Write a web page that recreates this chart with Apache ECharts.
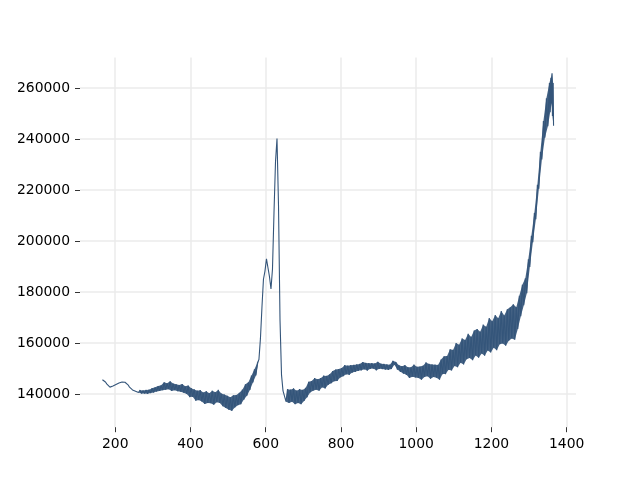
<!DOCTYPE html>
<html>
<head>
<meta charset="utf-8">
<script src="https://cdn.jsdelivr.net/npm/echarts@6/dist/echarts.min.js"></script>
<style>
  html, body { margin: 0; padding: 0; background: #fff; }
  #chart { width: 640px; height: 480px; }
</style>
</head>
<body>
<div id="chart"></div>
<script>
const xTicks = [200, 400, 600, 800, 1000, 1200, 1400];
const yTicks = [140000, 160000, 180000, 200000, 220000, 240000, 260000];

const wavenumber = [
  166,170,174,178,182,186,190,194,198,202,
  206,210,214,218,222,226,230,234,238,242,
  246,250,254,258,262,266,270,274,278,282,
  286,290,294,298,302,306,310,314,318,322,
  326,330,334,338,342,346,350,354,358,362,
  366,370,374,378,382,386,390,394,398,402,
  406,410,414,418,422,426,430,434,438,442,
  446,450,454,458,462,466,470,474,478,482,
  486,490,494,498,502,506,510,514,518,522,
  526,530,534,538,542,546,550,554,558,562,
  566,570,574,578,582,586,590,594,598,602,
  606,610,614,618,622,626,630,634,638,642,
  646,650,654,658,662,666,670,674,678,682,
  686,690,694,698,702,706,710,714,718,722,
  726,730,734,738,742,746,750,754,758,762,
  766,770,774,778,782,786,790,794,798,802,
  806,810,814,818,822,826,830,834,838,842,
  846,850,854,858,862,866,870,874,878,882,
  886,890,894,898,902,906,910,914,918,922,
  926,930,934,938,942,946,950,954,958,962,
  966,970,974,978,982,986,990,994,998,1002,
  1006,1010,1014,1018,1022,1026,1030,1034,1038,1042,
  1046,1050,1054,1058,1062,1066,1070,1074,1078,1082,
  1086,1090,1094,1098,1102,1106,1110,1114,1118,1122,
  1126,1130,1134,1138,1142,1146,1150,1154,1158,1162,
  1166,1170,1174,1178,1182,1186,1190,1194,1198,1202,
  1206,1210,1214,1218,1222,1226,1230,1234,1238,1242,
  1246,1250,1254,1258,1262,1266,1270,1274,1278,1282,
  1286,1290,1294,1298,1302,1306,1310,1314,1318,1322,
  1326,1330,1334,1338,1342,1346,1350,1354,
  1356,1358,1360,1361,1362,1364,1365
];

const intensity = [
  145600,144900,144700,143900,143600,142700,142400,143100,142900,143700,
  143500,144300,144000,144700,144300,144600,143900,143600,142700,142500,
  141600,142000,141100,141700,140600,141500,140200,141400,140200,141600,
  140100,141700,140400,142300,140600,142600,141000,143100,141200,143400,
  141500,144600,141700,144200,141900,145000,141200,144100,141500,143800,
  141100,143500,140900,143900,140500,143000,140000,143300,138800,142300,
  138900,141800,137400,141300,137600,141500,137100,140600,136100,141100,
  136500,140300,136400,141300,135800,140700,136800,141600,136500,140200,
  135200,139800,134500,139300,133800,138700,133400,139500,134700,139600,
  135600,140500,136000,141700,137800,143800,139300,144600,141600,147200,
  144500,149700,147300,152200,153500,161800,174000,185000,188200,193000,
  189500,186000,181200,189000,211000,231000,240200,214000,169000,147500,
  141200,141800,137000,141900,136500,141700,137000,142200,136000,141300,
  136500,141900,136000,141600,137300,142400,138700,144800,140600,145100,
  141300,146200,141700,145800,141300,146200,142600,147200,142200,147100,
  143600,147700,144200,149000,145000,149600,145100,149800,146500,150200,
  147000,151300,147700,151100,147500,151300,148400,151400,148700,151600,
  149100,151800,149300,152500,149700,152200,149200,152100,149900,152100,
  150000,152000,149300,152600,149900,151900,149800,151800,149600,151600,
  149500,151500,149800,153000,151500,152500,149600,151300,148700,150900,
  148000,151300,147500,150500,146300,150500,146800,151500,146500,150700,
  146300,150800,145600,151100,146700,152400,147000,151800,146000,151600,
  146700,151500,146400,151400,145600,153500,147800,154800,147800,154900,
  149500,157500,149200,157300,151000,160000,150500,159300,152300,161800,
  151600,161200,153600,163600,154100,162400,153200,164900,155100,165500,
  154200,164400,155900,167200,155000,166400,157100,169800,156300,168500,
  158100,171000,157200,169700,159500,172500,159800,170800,158900,173200,
  160900,174000,161800,175200,161300,174000,165500,178500,170500,182800,
  174800,185400,179500,192800,189800,202000,199500,211000,208500,222000,
  220500,235000,232000,247000,240500,256000,245000,262000,
  250500,264000,254000,265800,249000,262000,245200
];

const chart = echarts.init(document.getElementById('chart'), null, { renderer: 'canvas' });
const font = 'DejaVu Sans';
const lineColor = '#34557a';
const pairs = wavenumber.map((x, i) => [x, intensity[i]]);
const plain = v => String(v);

// index ranges of the noisy stretches (filled between their local maxima and minima)
const noisy = [[24, 104], [122, wavenumber.length - 1]];

function envelope(from, to, api) {
  const up = [], lo = [];
  for (let i = from; i <= to; i++) {
    const y = intensity[i];
    const yp = intensity[Math.max(i - 1, from)];
    const yn = intensity[Math.min(i + 1, to)];
    const p = api.coord([wavenumber[i], y]);
    if (y >= yp && y >= yn) up.push(p);
    if (y <= yp && y <= yn) lo.push(p);
  }
  return up.concat(lo.reverse());
}

chart.setOption({
  animation: false,
  backgroundColor: '#ffffff',
  grid: { left: 80, right: 64, top: 57.6, bottom: 52.8, containLabel: false },
  xAxis: {
    type: 'value',
    min: 106.4,
    max: 1424.7,
    axisLine: { show: false },
    axisTick: { show: true, customValues: xTicks, length: 5, lineStyle: { color: '#000', width: 0.8 } },
    axisLabel: { customValues: xTicks, formatter: plain, color: '#000', fontSize: 13.9, fontFamily: font, margin: 10 },
    splitLine: { show: true, lineStyle: { color: '#ebebeb', width: 1.5 } }
  },
  yAxis: {
    type: 'value',
    min: 126980,
    max: 271920,
    axisLine: { show: false },
    axisTick: { show: true, customValues: yTicks, length: 5, lineStyle: { color: '#000', width: 0.8 } },
    axisLabel: { customValues: yTicks, formatter: plain, color: '#000', fontSize: 13.9, fontFamily: font, margin: 10 },
    splitLine: { show: true, lineStyle: { color: '#ebebeb', width: 1.5 } }
  },
  series: [
    {
      type: 'custom',
      coordinateSystem: 'cartesian2d',
      data: [pairs[0]],
      clip: false,
      silent: true,
      z: 4,
      renderItem: (params, api) => ({
        type: 'group',
        children: noisy.map(([a, b]) => ({
          type: 'polygon',
          shape: { points: envelope(a, b, api) },
          style: { fill: lineColor, opacity: 0.92 }
        }))
      })
    },
    {
      type: 'line',
      data: pairs,
      showSymbol: false,
      symbol: 'none',
      sampling: null,
      lineStyle: { color: lineColor, width: 1.1, join: 'bevel' },
      z: 5
    }
  ]
});
</script>
</body>
</html>
